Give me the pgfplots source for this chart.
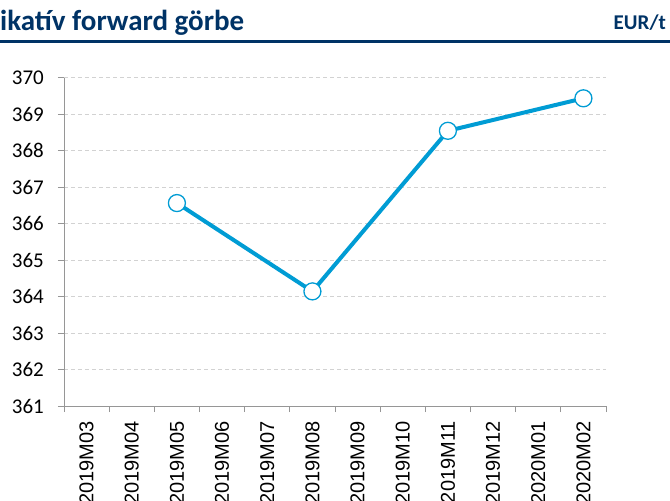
\documentclass[border=0pt]{standalone}
\usepackage{fontspec}
\setmainfont{Carlito}
\newfontfamily\arialf{Liberation Sans}
\usepackage{pgfplots}
\pgfplotsset{compat=1.18}
\definecolor{navy}{RGB}{0,51,102}
\definecolor{lblue}{RGB}{0,156,212}
\definecolor{gridc}{RGB}{210,210,210}
\definecolor{axc}{RGB}{150,150,150}
\begin{document}
\begin{tikzpicture}
\useasboundingbox (0,0) rectangle (670pt,501pt);
\node[anchor=base west, inner sep=0pt, text=navy, font=\bfseries\fontsize{29}{33}\selectfont] at (0pt,470.5pt) {ikatív forward görbe};
\node[anchor=base east, inner sep=0pt, text=navy, font=\bfseries\fontsize{21}{24}\selectfont] at (666pt,471.5pt) {EUR/t};
\draw[navy, line width=3pt] (0pt,459.3pt) -- (670pt,459.3pt);
\begin{axis}[
  at={(64pt,95pt)}, anchor=south west,
  scale only axis, width=542pt, height=328.5pt,
  xmin=-0.5, xmax=11.5, ymin=361, ymax=370,
  axis x line*=bottom, axis y line*=left,
  axis line style={axc, line width=0.9pt},
  ytick={361,...,370},
  xtick={0,...,11},
  xticklabels={2019M03,2019M04,2019M05,2019M06,2019M07,2019M08,2019M09,2019M10,2019M11,2019M12,2020M01,2020M02},
  minor xtick={-0.5,0.5,...,11.5},
  major x tick style={draw=none},
  minor x tick style={axc, line width=0.9pt},
  y tick style={axc, line width=0.9pt},
  tick align=outside,
  major tick length=6pt, minor tick length=6pt,
  ymajorgrids,
  grid style={gridc, dashed, dash pattern=on 4pt off 3pt, line width=0.8pt},
  /pgf/number format/assume math mode=true,
  yticklabel style={font=\fontsize{21}{24}\selectfont, anchor=east, inner sep=0pt, xshift=-14pt},
  xticklabel style={font=\arialf\fontsize{20}{24}\selectfont, yshift=-9pt, rotate=90, anchor=east, inner sep=0pt},
  clip=false,
]
\addplot[lblue, line width=4pt, mark=*, mark size=8.5pt, mark options={fill=white, draw=lblue, line width=1.3pt}]
  coordinates {(2,366.56) (5,364.14) (8,368.54) (11,369.43)};
\end{axis}
\end{tikzpicture}
\end{document}
